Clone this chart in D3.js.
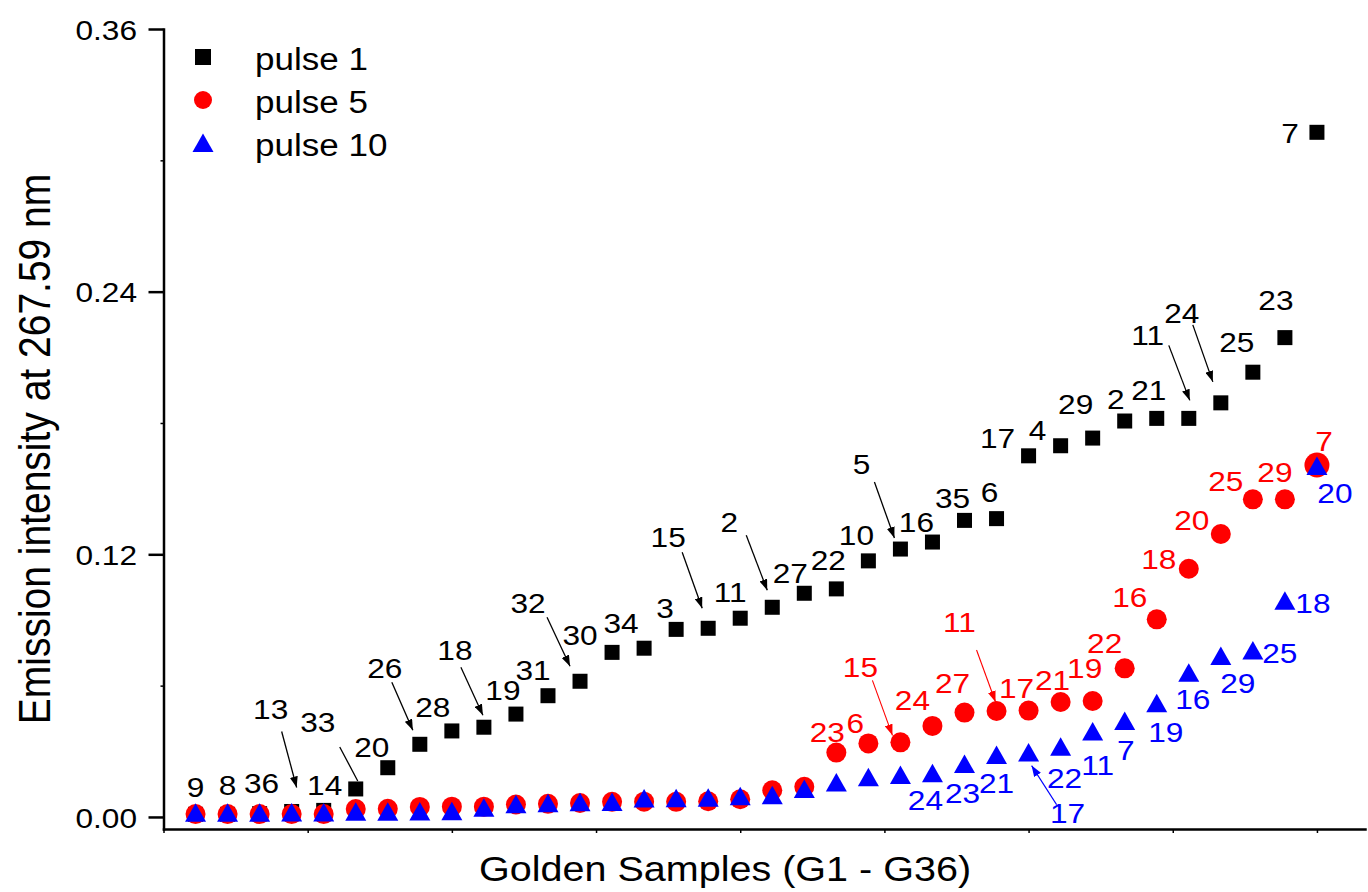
<!DOCTYPE html>
<html>
<head>
<meta charset="utf-8">
<script src="https://cdn.jsdelivr.net/npm/d3@7"></script>
<style>
  html, body { margin: 0; padding: 0; background: #fff; }
  svg { display: block; font-family: "Liberation Sans", Arial, sans-serif; }
</style>
</head>
<body>
<svg id="chart" width="1368" height="892"></svg>
<script>
// Rank of each golden sample along the x axis (sorted by pulse-1 intensity)
const ranks = d3.range(1, 37);

// Emission intensity at 267.59 nm, one value per rank
const pulse1 = [0.0012, 0.0012, 0.0015, 0.0025, 0.0030, 0.0128, 0.0225, 0.0332, 0.0393, 0.0410,
                0.0470, 0.0554, 0.0620, 0.0752, 0.0771, 0.0857, 0.0862, 0.0908, 0.0958, 0.1022,
                0.1042, 0.1170, 0.1224, 0.1256, 0.1355, 0.1363, 0.1650, 0.1696, 0.1731, 0.1809,
                0.1821, 0.1821, 0.1892, 0.2032, 0.2190, 0.3128];
const pulse5 = [0.0013, 0.0013, 0.0013, 0.0013, 0.0013, 0.0036, 0.0037, 0.0046, 0.0047, 0.0047,
                0.0057, 0.0060, 0.0064, 0.0069, 0.0070, 0.0069, 0.0072, 0.0081, 0.0122, 0.0138,
                0.0294, 0.0336, 0.0341, 0.0416, 0.0477, 0.0484, 0.0486, 0.0525, 0.0530, 0.0679,
                0.0903, 0.1134, 0.1293, 0.1451, 0.1451, 0.1608];
const pulse10 = [0.0019, 0.0019, 0.0019, 0.0020, 0.0020, 0.0024, 0.0024, 0.0025, 0.0026, 0.0042,
                 0.0058, 0.0063, 0.0067, 0.0068, 0.0084, 0.0086, 0.0088, 0.0095, 0.0099, 0.0128,
                 0.0157, 0.0182, 0.0192, 0.0200, 0.0242, 0.0283, 0.0294, 0.0321, 0.0390, 0.0438,
                 0.0519, 0.0659, 0.0735, 0.0761, 0.0988, 0.1603];

// Sample numbers written next to the points (null = no label)
const pulse1Ids = ["9", "8", "36", "13", "14", "33", "20", "26", "28", "18", "19", "31", "32", "30",
                   "34", "3", "15", "11", "2", "27", "22", "10", "5", "16", "35", "6", "17", "4",
                   "29", "2", "21", "11", "24", "25", "23", "7"];
const pulse5Ids = [null, null, null, null, null, null, null, null, null, null,
                   null, null, null, null, null, null, null, null, null, null,
                   "23", "6", "15", "24", "27", "11", "17", "21", "19", "22", "16", "18", "20", "25", "29", "7"];
const pulse10Ids = [null, null, null, null, null, null, null, null, null, null,
                    null, null, null, null, null, null, null, null, null, null,
                    null, null, null, "24", "23", "21", "17", "22", "11", "7", "19", "16", "29", "25", "18", "20"];

const seriesNames = ["pulse 1", "pulse 5", "pulse 10"];
const yTicks = [0, 0.12, 0.24, 0.36];
const yMinorTicks = [0.06, 0.18, 0.30];
const xTicks = [0, 4.5, 9, 13.5, 18, 22.5, 27, 31.5, 36];

// Label placement relative to its point, in px: [dx, dy, leader [x1,y1,x2,y2], arrowhead]
const pulse1Layout = [
  [0, -27], [0, -29], [2, -31], [-21, -103, [-10, -80, 5, -24]], [1, -25],
  [-38, -67, [-16, -42, 2, -8], false], [-16, -21], [-35, -76, [-28, -62, -7, -14]], [-19, -24],
  [-29, -77, [-23, -60, -1, -12]], [-13, -24], [-15, -26], [-52, -78, [-33, -64, -10, -15]],
  [-32, -17], [-23, -25], [-11, -21], [-40, -91, [-26, -76, -6, -20]], [-10, -26],
  [-43, -85, [-26, -72, -5, -17]], [-14, -20], [-8, -29], [-12, -26],
  [-39, -85, [-26, -67, -6, -11]], [-16, -20], [-12, -22], [-7, -27], [-31, -18], [-23, -16],
  [-17, -34], [-9, -22], [-8, -28], [-41, -83, [-20, -73, 1, -18]],
  [-39, -90, [-28, -78, -8, -21]], [-16, -30], [-9, -38], [-27, 1]
];
const pulse5Layout = [
  null, null, null, null, null, null, null, null, null, null,
  null, null, null, null, null, null, null, null, null, null,
  [-9, -21], [-13, -21], [-40, -75, [-28, -62, -8, -7]], [-20, -26], [-12, -30],
  [-37, -89, [-20, -61, -1, -9]], [-12, -23], [-8, -22], [-8, -33], [-20, -25],
  [-27, -22], [-30, -10], [-29, -14], [-27, -18], [-10, -27], [7, -24]
];
const pulse10Layout = [
  null, null, null, null, null, null, null, null, null, null,
  null, null, null, null, null, null, null, null, null, null,
  null, null, null, [-7, 27], [-2, 29], [0, 28], [39, 60, [28, 52, 3, 13]], [4, 31],
  [5, 33], [1, 29], [9, 29], [4, 26], [17, 27], [27, 3], [28, 2], [18, 27]
];

const svg = d3.select("#chart");
const FONT = '"Liberation Sans", Arial, sans-serif';
const SX = 1.13; // horizontal glyph stretch of all lettering

const x = d3.scaleLinear().domain([0, 37.5]).range([163.5, 1365]);
const y = d3.scaleLinear().domain([-0.0055, 0.36]).range([829, 29]);

function addText(px, py, str, size, colour, anchor, rotate) {
  const g = svg.append("g")
    .attr("transform", `translate(${px},${py}) scale(${SX},1)` + (rotate ? ` rotate(${rotate})` : ""));
  g.append("text")
    .attr("text-anchor", anchor || "middle")
    .attr("dy", "0.36em")
    .attr("font-family", FONT)
    .attr("font-size", size)
    .attr("fill", colour || "#000")
    .text(str);
  return g;
}

// arrowheads
const defs = svg.append("defs");
[["k", "#000"], ["r", "#ff0000"], ["b", "#0000ff"]].forEach(([id, c]) => {
  defs.append("marker")
    .attr("id", "arrow-" + id)
    .attr("viewBox", "0 0 11 8")
    .attr("refX", 11).attr("refY", 4)
    .attr("markerWidth", 11).attr("markerHeight", 8)
    .attr("markerUnits", "userSpaceOnUse")
    .attr("orient", "auto")
    .append("path").attr("d", "M0,0 L11,4 L0,8 Z").attr("fill", c);
});

// axes
const yAxis = svg.append("g")
  .attr("transform", `translate(${x(0)},0)`)
  .call(d3.axisLeft(y).tickValues(yTicks).tickSize(15).tickSizeOuter(0)
    .tickPadding(0).tickFormat(d3.format(".2f")))
  .attr("font-family", null).attr("font-size", null);
yAxis.select(".domain").attr("stroke-width", 2.5).attr("stroke-linecap", "square");
yAxis.selectAll(".tick line").attr("stroke-width", 2.5);
yAxis.selectAll(".tick text")
  .attr("font-family", FONT).attr("font-size", 28)
  .attr("x", -26.5 / SX).attr("dy", "0.36em")
  .attr("transform", `scale(${SX},1)`);

svg.append("g")
  .attr("transform", `translate(${x(0)},0)`)
  .call(d3.axisLeft(y).tickValues(yMinorTicks).tickSize(3).tickFormat(""))
  .call(g => g.select(".domain").remove())
  .selectAll(".tick line").attr("stroke-width", 1.5);

const xAxis = svg.append("g")
  .attr("transform", `translate(0,${y.range()[0]})`)
  .call(d3.axisBottom(x).tickValues(xTicks).tickSize(4).tickSizeOuter(0).tickFormat(""));
xAxis.select(".domain").attr("stroke-width", 2.5).attr("stroke-linecap", "square");
xAxis.selectAll(".tick line").attr("stroke-width", 1.5);

// axis titles
addText(725, 868, "Golden Samples (G1 - G36)", 35, "#000", "middle");
addText(34, 449, "Emission intensity at 267.59 nm", 39, "#000", "middle", -90);

// marker shapes
const triPath = "M0,-9.5 L10.5,9 L-10.5,9 Z";

// pulse 1: squares
svg.append("g").selectAll("rect").data(pulse1).join("rect")
  .attr("x", (d, i) => x(ranks[i]) - 7.5)
  .attr("y", d => y(d) - 7.5)
  .attr("width", 15).attr("height", 15)
  .attr("fill", "#000");

// pulse 5: circles (highest reading drawn a little larger)
const max5 = d3.maxIndex(pulse5);
svg.append("g").selectAll("circle").data(pulse5).join("circle")
  .attr("cx", (d, i) => x(ranks[i]))
  .attr("cy", d => y(d))
  .attr("r", (d, i) => i === max5 ? 12.5 : 10)
  .attr("fill", "#ff0000");

// pulse 10: triangles
svg.append("g").selectAll("path").data(pulse10).join("path")
  .attr("transform", (d, i) => `translate(${x(ranks[i])},${y(d)})`)
  .attr("d", triPath)
  .attr("fill", "#0000ff");

// sample-number labels with optional leader arrows
function drawLabels(ids, values, layout, colour, arrowId, lw) {
  ids.forEach((id, i) => {
    if (!id) return;
    const L = layout[i];
    const px = x(ranks[i]), py = y(values[i]);
    if (L[2]) {
      const [x1, y1, x2, y2] = L[2];
      const ln = svg.append("line")
        .attr("x1", px + x1).attr("y1", py + y1)
        .attr("x2", px + x2).attr("y2", py + y2)
        .attr("stroke", colour).attr("stroke-width", lw);
      if (L[3] !== false) ln.attr("marker-end", `url(#${arrowId})`);
    }
    addText(px + L[0], py + L[1], id, 28, colour, "middle");
  });
}
drawLabels(pulse1Ids, pulse1, pulse1Layout, "#000", "arrow-k", 1.3);
drawLabels(pulse5Ids, pulse5, pulse5Layout, "#ff0000", "arrow-r", 1.1);
drawLabels(pulse10Ids, pulse10, pulse10Layout, "#0000ff", "arrow-b", 1.1);

// legend
const legendY = [57, 100, 143];
const lg = svg.append("g");
lg.append("rect").attr("x", 203 - 8).attr("y", legendY[0] - 8).attr("width", 16).attr("height", 16).attr("fill", "#000");
lg.append("circle").attr("cx", 203).attr("cy", legendY[1]).attr("r", 9).attr("fill", "#ff0000");
lg.append("path").attr("transform", `translate(203,${legendY[2]})`).attr("d", triPath).attr("fill", "#0000ff");
seriesNames.forEach((name, i) => addText(255, legendY[i] + 2, name, 31, "#000", "start"));
</script>
</body>
</html>
